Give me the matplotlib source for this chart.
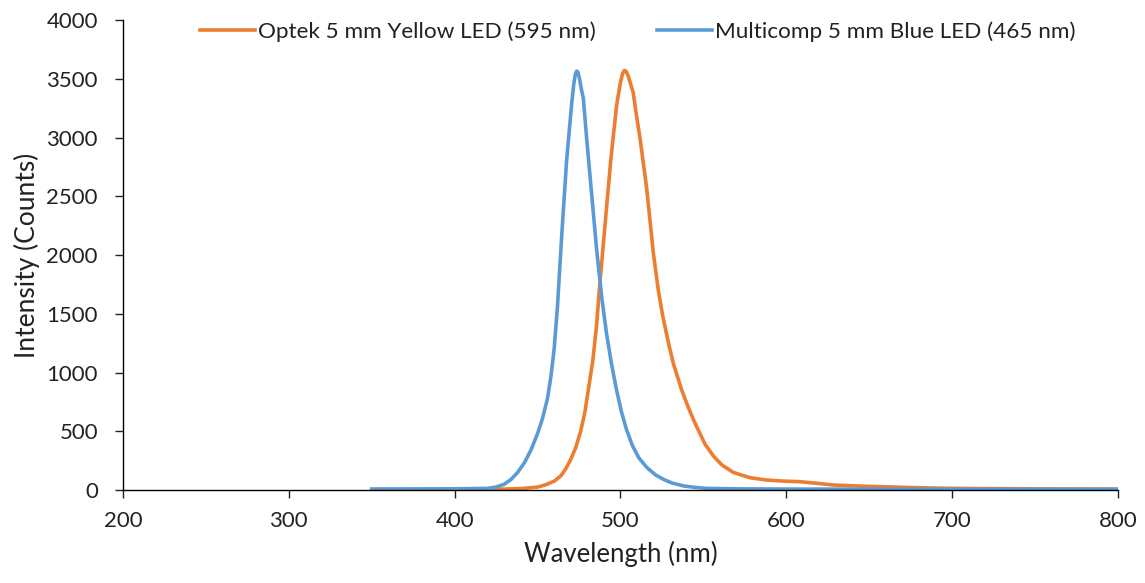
import matplotlib
matplotlib.use("Agg")
import matplotlib.pyplot as plt

plt.rcParams['font.family'] = ['Lato', 'DejaVu Sans']

# Optek 5 mm Yellow LED (595 nm)
yellow_wl = [350, 400, 430, 440, 450, 455, 460, 464, 467, 470, 473, 476, 478.5, 480.6, 483.3,
             485.6, 487.1, 490.7, 494.3, 497.7, 500, 501.3, 502.3, 503.3, 504.5, 506, 507.7, 509.5,
             511.8, 515.8, 519.8, 522.8, 525.5, 528.8, 532, 536.9, 541, 545, 551, 556, 561, 568,
             578, 588, 598, 608, 618, 628, 643, 658, 673, 688, 700, 720, 750, 800]
yellow_int = [5, 5, 8, 12, 25, 45, 75, 120, 180, 260, 360, 500, 660, 851, 1100,
              1400, 1680, 2260, 2830, 3277, 3470, 3545, 3570, 3565, 3530, 3460, 3380, 3200,
              2993, 2567, 2020, 1700, 1480, 1260, 1070, 851, 700, 567, 390, 290, 215, 150,
              105, 85, 76, 71, 58, 43, 34, 28, 22, 17, 14, 12, 10, 8]

# Multicomp 5 mm Blue LED (465 nm)
blue_wl = [350, 400, 420, 425, 430, 434, 438, 442, 446, 450, 453, 456, 458, 460, 462, 464.5,
           467.5, 470.5, 471.8, 472.8, 473.6, 474.4, 475.3, 476.3, 477.6, 479.6, 482.6, 485.6,
           488.7, 491.5, 494.5, 497.5, 500.5, 503.5, 507, 511, 516, 521, 526, 531, 538, 545,
           552, 570, 600, 650, 700, 750, 800]
blue_int = [8, 10, 14, 25, 50, 90, 150, 230, 340, 480, 610, 780, 960, 1200, 1560, 2150,
            2800, 3277, 3450, 3540, 3565, 3555, 3500, 3420, 3333, 2993, 2520, 2050,
            1640, 1340, 1080, 860, 670, 520, 385, 275, 190, 130, 90, 60, 35, 22,
            14, 10, 8, 7, 7, 6, 6]

x_ticks = [200, 300, 400, 500, 600, 700, 800]
y_ticks = [0, 500, 1000, 1500, 2000, 2500, 3000, 3500, 4000]

fig = plt.figure(figsize=(11.45, 5.83), dpi=100)
ax = fig.add_axes([0.1074, 0.1595, 0.869, 0.8062])

ax.plot(yellow_wl, yellow_int, color='#ED7D31', lw=2.6, label='Optek 5 mm Yellow LED (595 nm)')
ax.plot(blue_wl, blue_int, color='#5B9BD5', lw=2.6, label='Multicomp 5 mm Blue LED (465 nm)')

ax.set_xlim(200, 800)
ax.set_ylim(0, 4000)
ax.set_xticks(x_ticks)
ax.set_yticks(y_ticks)
for s in ['top', 'right']:
    ax.spines[s].set_visible(False)
for s in ['left', 'bottom']:
    ax.spines[s].set_color('black')
    ax.spines[s].set_linewidth(1.0)
ax.tick_params(axis='both', direction='out', length=6, width=1, labelsize=16, colors='#222222')
ax.tick_params(axis='x', pad=9)
ax.tick_params(axis='y', pad=12)

ax.set_xlabel('Wavelength (nm)', fontsize=18.5, color='#222222', labelpad=7)
ax.set_ylabel('Intensity (Counts)', fontsize=19, color='#222222', labelpad=5)

fig.legend(loc='center', bbox_to_anchor=(0.557, 0.945), ncol=2, frameon=False,
           fontsize=16.2, handlelength=2.45, handletextpad=0.15, columnspacing=2.7,
           labelcolor='#222222')

fig.savefig('out.png', dpi=100, facecolor='white')
